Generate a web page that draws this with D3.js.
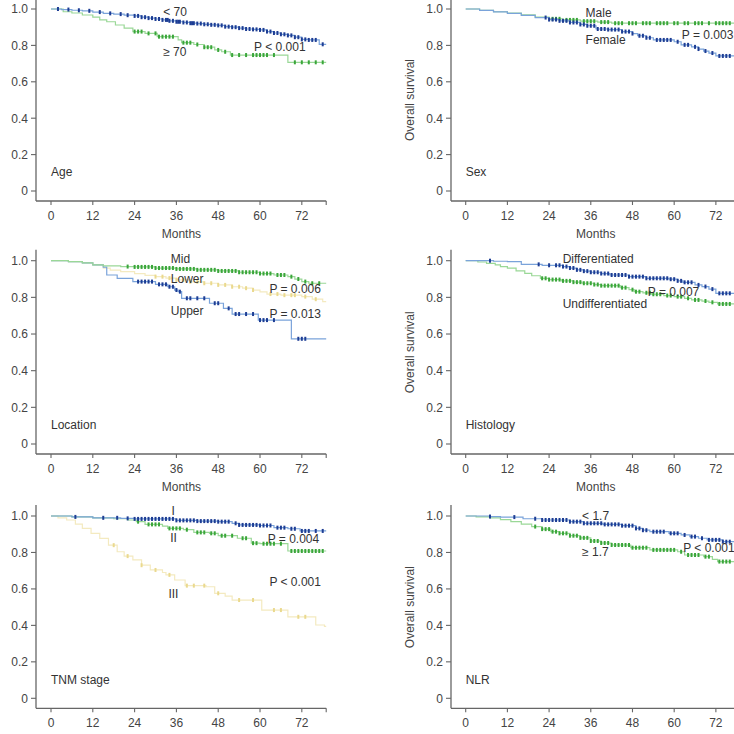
<!DOCTYPE html>
<html>
<head>
<meta charset="utf-8">
<script src="https://cdn.jsdelivr.net/npm/d3@7"></script>
<style>
  body { margin: 0; background: #fff; }
  svg { display: block; font-family: "Liberation Sans", Arial, sans-serif; }
</style>
</head>
<body>
<div id="chart"></div>
<script>
// tick values
var monthTicks = [0, 12, 24, 36, 48, 60, 72];
var survTicks = [0, 0.2, 0.4, 0.6, 0.8, 1.0];
var maxMonth = 79;

// step data: [month, survival after the event]
var ageUnder70 = [[0,1],[3,0.997],[6,0.993],[9,0.99],[12,0.983],[15,0.976],[18,0.972],[21,0.966],[24,0.962],[26,0.955],[28,0.95],[30,0.945],[32,0.94],[34,0.935],[36,0.93],[38,0.926],[40,0.922],[42,0.92],[44,0.916],[46,0.913],[48,0.91],[50,0.903],[52,0.9],[54,0.895],[56,0.89],[58,0.888],[60,0.885],[62,0.876],[64,0.868],[66,0.861],[68,0.855],[70,0.845],[72,0.833],[74,0.83],[77,0.806]];
var ageUnder70Cens = [2,5,8,11,14,17,20,22,24,25,26,27,28,29,30,31,32,33,33.5,34,35,36,36.5,37,38,39,40,40.5,41,42,43,44,45,46,47,48,49,50,51,52,53,54,55,56,57,58,59,60,61,62,63,64,65,66,67,68,69,70,71,72,73,74,75,76,78];
var ageOver70 = [[0,1],[3.5,0.985],[6,0.978],[9,0.967],[12,0.955],[14,0.94],[16,0.93],[18.5,0.912],[21,0.895],[23.5,0.876],[27,0.866],[30.5,0.848],[36.5,0.83],[37.5,0.815],[41,0.805],[44,0.79],[47,0.775],[49,0.765],[51.5,0.747],[68,0.707]];
var ageOver70Cens = [24,25,26,28,30,31,32,33,34,35,38,39,40,42,44,45,46,48,50,52,54,56,58,59,60,61,62,64,70,72,74,76,78];

var sexMale = [[0,1],[4,0.993],[8,0.985],[12,0.978],[16,0.968],[20,0.955],[24,0.946],[28,0.94],[33,0.933],[38,0.928],[42,0.922]];
var sexMaleCens = [25,26,27,29,30,31,32,34,35,36,37,39,40,41,43,44,45,47,48,49,51,52,53,55,56,57,58,60,61,63,64,66,67,68,70,72,73,74,75,76];
var sexFemale = [[0,1],[4,0.992],[8,0.984],[12,0.976],[16,0.965],[20,0.953],[24,0.942],[27,0.935],[30,0.926],[33,0.915],[35,0.908],[37.5,0.89],[41,0.887],[45,0.876],[48,0.865],[49.5,0.853],[52,0.842],[54,0.83],[60,0.82],[62,0.803],[65,0.792],[67,0.78],[68.5,0.769],[70,0.758],[72,0.742]];
var sexFemaleCens = [23,24,25,26,27,28,29,30,31,32,33,34,35,36,37,38,39,40,41,42,43,44,45,46,47,48,50,51,52,53,55,56,57,58,59,61,63,64,66,67,69,71,73,74,75,76];

var locMid = [[0,1],[5,0.995],[9,0.988],[12,0.977],[15,0.972],[20,0.968],[24,0.966],[30,0.96],[36,0.955],[42,0.95],[48,0.944],[54,0.937],[60,0.93],[64,0.922],[68,0.913],[70,0.9],[72,0.886],[74,0.877]];
var locMidCens = [22,24,25,26,27,28,29,30,31,32,33,34,35,36,37,38,39,40,41,42,43,44,45,46,47,48,49,50,51,52,53,54,55,56,57,58,59,60,61,62,63,65,66,67,69,71,73,75,77];
var locLower = [[0,1],[5,0.995],[9,0.988],[12,0.977],[15,0.96],[17,0.949],[20,0.94],[24,0.93],[27,0.92],[30,0.913],[33,0.905],[36,0.895],[40,0.885],[44,0.877],[48,0.868],[52,0.858],[55,0.85],[58,0.84],[60,0.83],[62,0.818],[66,0.812],[72,0.804],[75,0.79],[78,0.777]];
var locLowerCens = [30,32,34,36,38,40,42,44,46,48,50,52,54,56,58,63,65,67,69,70,73,76];
var locUpper = [[0,1],[5,0.995],[9,0.988],[12,0.977],[15,0.965],[16,0.922],[19,0.904],[23.5,0.886],[30,0.871],[33.5,0.858],[35.5,0.84],[36.5,0.831],[37.5,0.795],[45.5,0.768],[49.5,0.74],[52,0.709],[59.5,0.676],[69,0.574]];
var locUpperCens = [25,26,27,28,29,31,32,33,34,35,36,37,39,40,42,44,47,48,51,53,54,56,58,60,61,62,64,71,72,73];

var histDiff = [[0,1],[8,0.997],[12,0.995],[16,0.98],[22,0.975],[28,0.968],[30,0.96],[32,0.95],[34,0.943],[36,0.937],[39,0.93],[41.5,0.922],[47,0.913],[52,0.904],[58.5,0.899],[61,0.89],[62.5,0.882],[66,0.868],[68,0.859],[70,0.845],[72,0.822]];
var histDiffCens = [7,21,24,26,27,28,29,30,31,32,33,34,35,36,37,38,39,40,41,42,43,44,45,46,47,48,49,50,51,52,53,54,55,56,57,58,59,60,61,62,63,64,65,67,69,71,73,74,75,76];
var histUndiff = [[0,1],[3.5,0.993],[6,0.985],[8.5,0.977],[10,0.968],[12,0.959],[14.5,0.945],[17,0.931],[19,0.918],[21.5,0.904],[24,0.897],[27.5,0.89],[31,0.883],[33.5,0.877],[37,0.87],[39,0.864],[44.5,0.853],[47,0.842],[48.5,0.831],[51,0.825],[53.5,0.817],[57,0.81],[60,0.804],[63,0.795],[65,0.786],[68,0.78],[70,0.773],[72.5,0.764]];
var histUndiffCens = [22,23,24,25,26,27,28,29,30,31,32,33,34,35,36,37,38,39,40,41,42,43,44,45,46,48,49,50,52,53,54,55,56,58,59,61,62,64,66,67,69,71,73,74,75,76];

var tnmI = [[0,1],[6,0.995],[12,0.99],[20,0.987],[24,0.984],[36,0.976],[42,0.972],[48,0.969],[52,0.96],[54,0.951],[60,0.948],[64,0.936],[68,0.93],[71.5,0.918]];
var tnmICens = [7,15,19,22,24,25,26,27,28,29,30,31,32,33,34,35,36,37,38,39,40,41,42,43,44,45,46,47,48,49,50,51,53,54,55,56,57,58,59,60,61,62,63,65,66,67,69,70,72,73,74,76,78];
var tnmII = [[0,1],[6,0.995],[12,0.99],[18,0.985],[22,0.978],[24.5,0.969],[27,0.954],[32,0.945],[33.5,0.932],[38,0.925],[41,0.91],[45.5,0.905],[48,0.892],[53.5,0.878],[57.5,0.851],[60,0.848],[68,0.808]];
var tnmIICens = [25,28,29,30,31,34,35,36,37,39,42,43,44,46,47,49,50,52,55,56,58,59,61,62,63,64,66,69,70,71,72,73,74,75,76,77,78];
var tnmIII = [[0,1],[2,0.99],[4.5,0.978],[7,0.955],[9,0.932],[11.5,0.905],[14,0.877],[16.5,0.84],[19,0.804],[21,0.78],[23.5,0.759],[26,0.73],[28.5,0.704],[32,0.69],[33,0.677],[35.5,0.649],[38.5,0.618],[44.5,0.612],[47,0.576],[50,0.56],[52,0.539],[60.5,0.484],[68,0.447],[76,0.402],[78.5,0.394]];
var tnmIIICens = [18,22,26,30,34,39,41,44,48,54,58,64,66,71,73];

var nlrLow = [[0,1],[7,0.997],[10,0.994],[16.5,0.985],[22,0.978],[30,0.969],[34,0.96],[39.5,0.954],[45,0.947],[49,0.932],[51,0.922],[53,0.914],[58.5,0.905],[62,0.896],[64.5,0.887],[67,0.878],[69.5,0.869],[74,0.859]];
var nlrLowCens = [7,14,20,22,23,24,25,26,27,28,29,30,31,32,33,34,35,36,37,38,39,40,41,42,43,44,45,46,47,48,49,50,51,52,54,55,56,57,59,60,61,63,65,66,68,70,71,72,73,74,75,76];
var nlrHigh = [[0,1],[3,0.995],[7,0.99],[10,0.98],[13,0.969],[16,0.955],[19,0.942],[22,0.928],[24.5,0.914],[27,0.905],[30,0.892],[33,0.88],[36,0.863],[39,0.852],[42,0.841],[47.5,0.826],[53,0.814],[61,0.804],[63,0.786],[68.5,0.777],[71,0.762],[72.5,0.75]];
var nlrHighCens = [20,22,23,24,25,26,27,28,29,30,31,32,33,34,35,36,37,38,39,40,41,42,43,44,45,46,47,48,49,50,51,52,54,55,56,57,58,59,60,62,64,65,66,67,69,70,73,74,75,76];

var blue = {line: "#7aa3da", mark: "#1d3d94"};
var green = {line: "#9ad897", mark: "#3aa63a"};
var yellow = {line: "#f4eac0", mark: "#ead98e"};

var panels = [
  {title: "Age", col: 0, row: 0, curves: [
      {steps: ageOver70, cens: ageOver70Cens, c: green},
      {steps: ageUnder70, cens: ageUnder70Cens, c: blue}],
    labels: [["< 70", 32.2, 0.962], ["\u2265 70", 32.2, 0.742], ["P < 0.001", 58.3, 0.77]]},
  {title: "Sex", col: 1, row: 0, curves: [
      {steps: sexMale, cens: sexMaleCens, c: green},
      {steps: sexFemale, cens: sexFemaleCens, c: blue}],
    labels: [["Male", 34.5, 0.954], ["Female", 34.5, 0.805], ["P = 0.003", 62.2, 0.834]]},
  {title: "Location", col: 0, row: 1, curves: [
      {steps: locLower, cens: locLowerCens, c: yellow},
      {steps: locUpper, cens: locUpperCens, c: blue},
      {steps: locMid, cens: locMidCens, c: green}],
    labels: [["Mid", 34.4, 0.985], ["Lower", 34.4, 0.878], ["P = 0.006", 62.7, 0.824], ["Upper", 34.4, 0.706], ["P = 0.013", 62.7, 0.69]]},
  {title: "Histology", col: 1, row: 1, curves: [
      {steps: histUndiff, cens: histUndiffCens, c: green},
      {steps: histDiff, cens: histDiffCens, c: blue}],
    labels: [["Differentiated", 27.9, 0.99], ["P = 0.007", 52.4, 0.805], ["Undifferentiated", 27.9, 0.742]]},
  {title: "TNM stage", col: 0, row: 2, curves: [
      {steps: tnmIII, cens: tnmIIICens, c: yellow},
      {steps: tnmII, cens: tnmIICens, c: green},
      {steps: tnmI, cens: tnmICens, c: blue}],
    labels: [["I", 34.6, 1.004], ["II", 34.2, 0.86], ["III", 33.7, 0.549], ["P = 0.004", 62.2, 0.851], ["P < 0.001", 62.7, 0.617]]},
  {title: "NLR", col: 1, row: 2, curves: [
      {steps: nlrHigh, cens: nlrHighCens, c: green},
      {steps: nlrLow, cens: nlrLowCens, c: blue}],
    labels: [["< 1.7", 33.5, 0.979], ["\u2265 1.7", 33.5, 0.778], ["P < 0.001", 62.6, 0.8]]}
];

var cols = [{axisX: 36, x0: 51, x1: 326.2}, {axisX: 451, x0: 465.7, x1: 740.2}];
var rows = [{top: 9, bottom: 191}, {top: 260.7, bottom: 444}, {top: 516, bottom: 698.3}];

var textColor = "#444";
var axisColor = "#666";

var svg = d3.select("#chart").append("svg")
  .attr("width", 734)
  .attr("height", 734)
  .attr("font-size", 12)
  .attr("fill", textColor);

function survAt(steps, t) {
  var s = 1;
  steps.forEach(function(p) { if (p[0] <= t) s = p[1]; });
  return s;
}

panels.forEach(function(p) {
  var col = cols[p.col], row = rows[p.row];
  var x = d3.scaleLinear().domain([0, maxMonth]).range([col.x0, col.x1]);
  var y = d3.scaleLinear().domain([0, 1]).range([row.bottom, row.top]);
  var axisY = row.bottom + 10;
  var g = svg.append("g");

  // y axis
  g.append("line")
    .attr("x1", col.axisX).attr("x2", col.axisX)
    .attr("y1", row.top - 11).attr("y2", axisY)
    .attr("stroke", axisColor).attr("stroke-width", 1.3);
  survTicks.forEach(function(v) {
    g.append("line")
      .attr("x1", col.axisX - 5).attr("x2", col.axisX)
      .attr("y1", y(v)).attr("y2", y(v))
      .attr("stroke", axisColor).attr("stroke-width", 1.1);
    g.append("text")
      .attr("x", col.axisX - 8).attr("y", y(v) + 4.3)
      .attr("text-anchor", "end")
      .text(v === 0 ? "0" : d3.format(".1f")(v));
  });

  // x axis
  g.append("line")
    .attr("x1", col.axisX).attr("x2", x(maxMonth))
    .attr("y1", axisY).attr("y2", axisY)
    .attr("stroke", axisColor).attr("stroke-width", 1.3);
  monthTicks.concat([maxMonth]).forEach(function(m) {
    g.append("line")
      .attr("x1", x(m)).attr("x2", x(m))
      .attr("y1", axisY).attr("y2", axisY + 4)
      .attr("stroke", axisColor).attr("stroke-width", 1.1);
  });
  monthTicks.forEach(function(m) {
    g.append("text")
      .attr("x", x(m)).attr("y", axisY + 18.5)
      .attr("text-anchor", "middle")
      .text(m);
  });
  // bottom row's axis title falls outside the figure
  if (p.row < 2) {
    g.append("text")
      .attr("x", (col.x0 + x(72)) / 2 + 5).attr("y", axisY + 37)
      .attr("text-anchor", "middle")
      .text("Months");
  }

  if (p.col === 1) {
    g.append("text")
      .attr("transform", "translate(414," + ((row.top + row.bottom) / 2) + ") rotate(-90)")
      .attr("text-anchor", "middle")
      .text("Overall survival");
  }

  // curves
  var line = d3.line()
    .x(function(d) { return x(d[0]); })
    .y(function(d) { return y(d[1]); })
    .curve(d3.curveStepAfter);

  p.curves.forEach(function(c) {
    var pts = c.steps.concat([[maxMonth, c.steps[c.steps.length - 1][1]]]);
    g.append("path")
      .attr("d", line(pts))
      .attr("fill", "none")
      .attr("stroke", c.c.line)
      .attr("stroke-width", 1.2);
    g.selectAll(null)
      .data(c.cens)
      .enter().append("line")
      .attr("x1", function(d) { return x(d); })
      .attr("x2", function(d) { return x(d); })
      .attr("y1", function(d) { return y(survAt(c.steps, d)) - 2; })
      .attr("y2", function(d) { return y(survAt(c.steps, d)) + 2; })
      .attr("stroke", c.c.mark)
      .attr("stroke-width", 2);
  });

  // annotations
  p.labels.forEach(function(l) {
    g.append("text")
      .attr("x", x(l[1])).attr("y", y(l[2]))
      .attr("fill", "#333")
      .text(l[0]);
  });
  g.append("text")
    .attr("x", x(0)).attr("y", y(0.08))
    .attr("fill", "#333")
    .text(p.title);
});
</script>
</body>
</html>
